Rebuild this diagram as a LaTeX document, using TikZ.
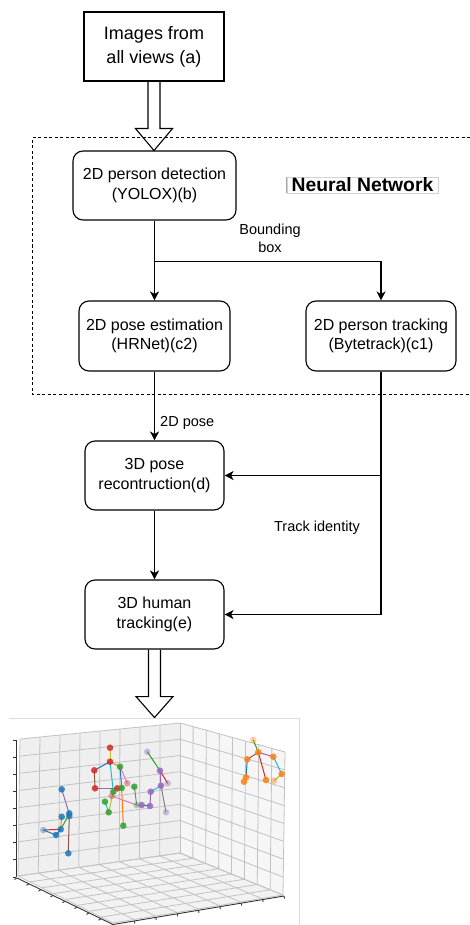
\documentclass[tikz,border=0pt]{standalone}
\usepackage{fontspec}
\setmainfont{Liberation Sans}
\usetikzlibrary{arrows.meta,calc}

% matplotlib "tab" palette
\definecolor{tabblue}{HTML}{1F77B4}
\definecolor{taborange}{HTML}{FF7F0E}
\definecolor{tabgreen}{HTML}{2CA02C}
\definecolor{tabred}{HTML}{D62728}
\definecolor{tabpurple}{HTML}{9467BD}
\definecolor{tabbrown}{HTML}{8C564B}
\definecolor{tabpink}{HTML}{E377C2}
\definecolor{tabgray}{HTML}{7F7F7F}
\definecolor{tabolive}{HTML}{BCBD22}
\definecolor{tabcyan}{HTML}{17BECF}
\definecolor{paneback}{HTML}{EFEFEF}
\definecolor{paneside}{HTML}{F6F6F6}
\definecolor{panefloor}{HTML}{F2F2F2}
\definecolor{gridgray}{HTML}{C2C2C2}
\definecolor{framegray}{HTML}{DADADA}

\begin{document}
\begin{tikzpicture}[x=1pt,y=-1pt,
  plainbox/.style={draw, line width=1.1pt, align=center, inner sep=0pt,
    font=\fontsize{18}{24}\selectfont},
  stagebox/.style={draw, line width=1.1pt, rounded corners=10pt, align=center,
    inner sep=0pt, font=\fontsize{16}{19.5}\selectfont},
  flow/.style={line width=1.1pt, -{Stealth[length=9pt,width=9pt,inset=2.5pt]}},
  hollow/.style={line width=1.1pt, line join=miter},
  edgelabel/.style={align=center, inner sep=0pt, font=\fontsize{14.5}{18}\selectfont},
  gridline/.style={draw=gridgray, line width=0.8pt},
  axisline/.style={draw=black!80, line width=0.9pt},
  limb/.style={line width=1pt},
  joint/.style={fill=#1, fill opacity=0.85, draw=none},
  faint/.style={fill=#1, fill opacity=0.4, draw=none},
]
\useasboundingbox (0,0) rectangle (470,925);

% ---------------- flow chart ----------------
\node[plainbox, minimum width=140pt, minimum height=69pt] (a) at (154,46.5)
  {Images from\\all views (a)};
\node[stagebox, minimum width=163pt, minimum height=69pt] (b) at (154.5,185.5)
  {2D person detection\\(YOLOX)(b)};
\node[stagebox, minimum width=151pt, minimum height=70pt] (c2) at (154.5,336)
  {2D pose estimation\\(HRNet)(c2)};
\node[stagebox, minimum width=150pt, minimum height=70pt] (c1) at (381,336)
  {2D person tracking\\(Bytetrack)(c1)};
\node[stagebox, minimum width=139pt, minimum height=69pt] (d) at (154.5,475.5)
  {3D pose\\recontruction(d)};
\node[stagebox, minimum width=139pt, minimum height=69pt] (e) at (154.5,614.5)
  {3D human\\tracking(e)};

% block arrow into the detector
\draw[hollow] ($(a.south)+(-6,0)$) -- ++(0,47) -- ++(-12.5,0) -- ++(18.5,22)
  -- ++(18.5,-22) -- ++(-12.5,0) -- ++(0,-47);

% neural network region (open towards the right margin)
\draw[line width=1pt, dash pattern=on 3pt off 2.5pt]
  (470,138) -- (32,138) -- (32,394) -- (470,394);
\node[draw=gray!35, line width=0.6pt, minimum width=151pt, minimum height=16pt,
  inner sep=0pt, font=\fontsize{19.3}{20}\bfseries] (nn) at (362.5,185) {Neural Network};
\draw[gray!70, line width=0.8pt] (nn.north west) -- (nn.south west);

% bounding boxes to pose estimation and tracking
\coordinate (split) at ($(b.south)+(0,41)$);
\draw[flow] (b.south) -- (c2.north);
\draw[flow] (split) -| (c1.north);
\node[edgelabel] (lbbox) at (270,238) {Bounding\\box};

% 2D pose to reconstruction
\draw[flow] (c2.south) -- (d.north);
\node[edgelabel, anchor=west] (lpose) at (160,423) {2D pose};

% track identities
\draw[flow] (c1.south) |- (e.east);
\draw[flow] (c1.south |- d.east) -- (d.east);
\node[edgelabel] (ltrack) at (317,528) {Track identity};

\draw[flow] (d.south) -- (e.north);

% block arrow to the 3D result
\draw[hollow] ($(e.south)+(-6,0)$) -- ++(0,47) -- ++(-12.5,0) -- ++(18.5,21)
  -- ++(18.5,-21) -- ++(-12.5,0) -- ++(0,-47);

% ---------------- 3D tracking result ----------------
\draw[framegray, line width=0.8pt] (9,718) -- (299,718) -- (299,925);

% panes
\coordinate (BWtl) at (20,739);  \coordinate (BWtr) at (180,723);
\coordinate (BWbr) at (180,853); \coordinate (BWbl) at (18,876);
\coordinate (RWtr) at (285,752); \coordinate (RWbr) at (283,895);
\coordinate (FF) at (113,923);

\fill[paneback] (BWtl) -- (BWtr) -- (BWbr) -- (BWbl) -- cycle;
\fill[paneside] (BWtr) -- (RWtr) -- (RWbr) -- (BWbr) -- cycle;
\fill[panefloor] (BWbl) -- (BWbr) -- (RWbr) -- (FF) -- cycle;

\foreach \t in {0,0.125,0.25,0.375,0.5,0.625,0.75,0.875,1}{
  % back wall
  \draw[gridline] ($(BWtl)!\t!(BWtr)$) -- ($(BWbl)!\t!(BWbr)$);
  \draw[gridline] ($(BWtl)!\t!(BWbl)$) -- ($(BWtr)!\t!(BWbr)$);
  % side wall
  \draw[gridline] ($(BWtr)!\t!(RWtr)$) -- ($(BWbr)!\t!(RWbr)$);
  \draw[gridline] ($(BWtr)!\t!(BWbr)$) -- ($(RWtr)!\t!(RWbr)$);
  % floor
  \draw[gridline] ($(BWbl)!\t!(BWbr)$) -- ($(FF)!\t!(RWbr)$);
  \draw[gridline] ($(BWbr)!\t!(RWbr)$) -- ($(BWbl)!\t!(FF)$);
}

% axes with ticks
\draw[axisline] (16,740) -- (16,877);
\foreach \t in {0,0.125,0.25,0.375,0.5,0.625,0.75,0.875,1}
  \draw[axisline] ($(16,740)!\t!(16,877)$) -- ++(-3,0);
\draw[axisline] (17,878) -- (113,924.5);
\foreach \t in {0,0.125,0.25,0.375,0.5,0.625,0.75,0.875,1}
  \draw[axisline] ($(17,878)!\t!(113,924.5)$) -- ++(-2.5,1.5);
\draw[axisline] (113,924.5) -- (284,896);
\foreach \t in {0.125,0.25,0.375,0.5,0.625,0.75,0.875,1}
  \draw[axisline] ($(113,924.5)!\t!(284,896)$) -- ++(0.5,2.5);

% person 1 (blue)
\draw[limb, tabpurple] (61.7,789.3) -- (69.3,814);
\draw[limb, tabgreen]  (69.3,814) -- (60.7,829.3);
\draw[limb, taborange] (61.7,816.7) -- (60.7,829.3);
\draw[limb, tabbrown]  (69.3,814) -- (68.3,853.3);
\draw[limb, tabred]    (43.3,830) -- (60.7,829.3);
\draw[limb, tabblue]   (43.3,830) -- (56,835) -- (60.7,829.3);
\foreach \p in {(61.7,789.3),(69.3,813.3),(69.3,816),(61.7,816.7),(60.7,829.3),(56,835),(68.3,853.3)}
  \fill[joint=tabblue] \p circle (3.3pt);
\fill[faint=tabblue] (43.3,830) circle (3.3pt);

% person 2 (red) and person 3 (green)
\draw[limb, tabolive]  (110,747.7) -- (110,761.7);
\draw[limb, tabblue]   (110,761.7) -- (94.3,770.3);
\draw[limb, tabbrown]  (94.3,770.3) -- (95,788.3);
\draw[limb, tabpurple] (95,788.3) -- (117.3,788.3);
\draw[limb, tabcyan]   (110,761.7) -- (113.3,791.7);
\draw[limb, taborange] (110,761.7) -- (120,766.7);
\draw[limb, tabblue]   (120,766.7) -- (121.7,788);
\draw[limb, tabpink]   (120,766.7) -- (127.3,783.3);
\draw[limb, taborange] (121.7,788) -- (123.3,825.7);
\draw[limb, tabgray]   (134.3,786.7) -- (136.7,805);
\draw[limb, tabpink]   (111.7,796) -- (136.7,805);
\draw[limb, tabcyan]   (105,801.7) -- (108.7,812.3);
\draw[limb, tabolive]  (113.3,791.7) -- (108.7,812.3);
\draw[limb, tabred]    (117.3,788.3) -- (121.7,788);
\foreach \p in {(110,747.7),(110,761.7),(94.3,770.3),(95,788.3),(117.3,788.3)}
  \fill[joint=tabred] \p circle (3.3pt);
\fill[faint=tabred] (127.3,783.3) circle (3.3pt);
\fill[faint=tabred] (111.7,796) circle (3.3pt);
\foreach \p in {(120,766.7),(121.7,788),(113.3,791.7),(134.3,786.7),(105,801.7),(108.7,812.3),(123.3,825.7)}
  \fill[joint=tabgreen] \p circle (3.3pt);
\fill[faint=tabgreen] (136.7,805) circle (3.3pt);

% person 4 (purple)
\draw[limb, tabgreen]  (147.3,751.7) -- (160,770.7);
\draw[limb, tabred]    (160,770.7) -- (167.7,783.3);
\draw[limb, tabpurple] (160,770.7) -- (161,785.7);
\draw[limb, tabgray]   (161,785.7) -- (166,812.3);
\draw[limb, tabcyan]   (161,785.7) -- (150.7,791.7);
\draw[limb, tabpurple] (150.7,791.7) -- (150,806);
\draw[limb, tabblue]   (150,806) -- (141.7,805);
\draw[limb, tabpurple] (141.7,805) -- (136.7,805);
\foreach \p in {(160,770.7),(161,785.7),(150.7,791.7),(150,806),(141.7,805)}
  \fill[joint=tabpurple] \p circle (3.3pt);
\foreach \p in {(147.3,751.7),(167.7,783.3),(166,812.3)}
  \fill[faint=tabpurple] \p circle (3.3pt);

% person 5 (orange)
\draw[limb, tabgreen]  (253.3,740) -- (258.3,752.3);
\draw[limb, tabbrown]  (258.3,752.3) -- (247.3,759.3);
\draw[limb, tabblue]   (247.3,759.3) -- (246,777.3);
\draw[limb, tabpurple] (258.3,752.3) -- (273.3,756.7);
\draw[limb, tabcyan]   (273.3,756.7) -- (281.7,774);
\draw[limb, tabolive]  (281.7,774) -- (274,780.7);
\draw[limb, tabred]    (258.3,752.3) -- (266,780);
\foreach \p in {(258.3,752.3),(247.3,759.3),(246,777.3),(244,781.7),(273.3,756.7),(281.7,774),(266,780)}
  \fill[joint=taborange] \p circle (3.3pt);
\foreach \p in {(253.3,740),(274,780.7)}
  \fill[faint=taborange] \p circle (3.3pt);

\end{tikzpicture}
\end{document}
